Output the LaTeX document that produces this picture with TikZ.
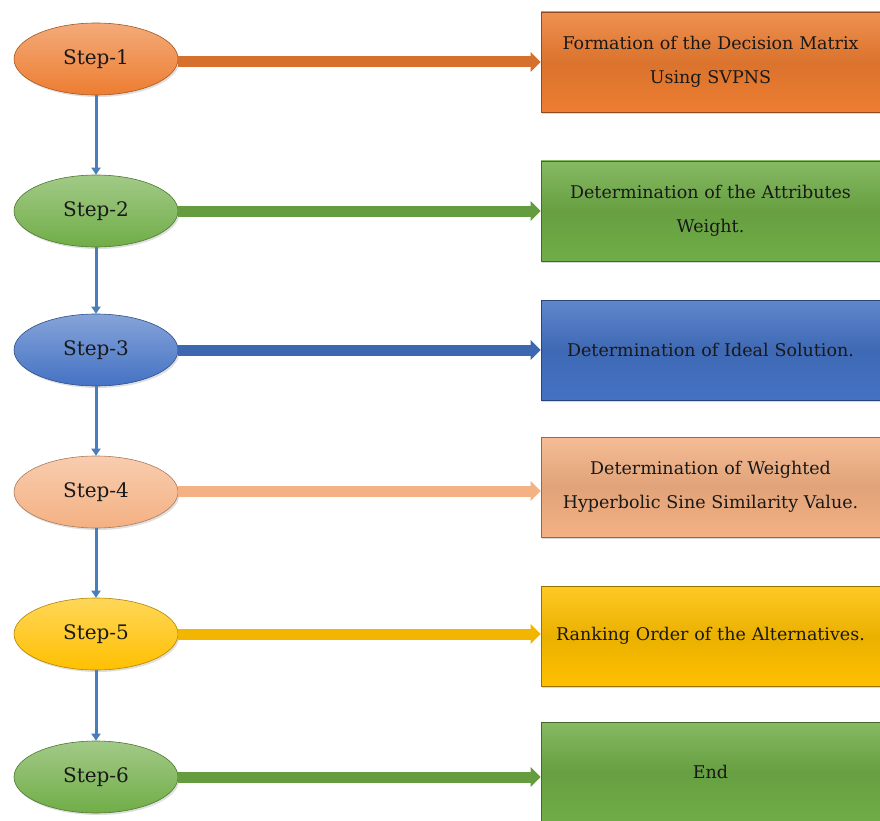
\documentclass[tikz,border=0pt]{standalone}
\usepackage{fontspec}
\setmainfont{DejaVu Serif}
\usetikzlibrary{shapes.geometric,arrows.meta,shadows}
\definecolor{corange}{HTML}{ED7D31}
\definecolor{cgreen}{HTML}{70AD47}
\definecolor{cblue}{HTML}{4472C4}
\definecolor{csalmon}{HTML}{F4B183}
\definecolor{cgold}{HTML}{FFC000}
\definecolor{cdown}{HTML}{4A7EBB}
\tikzset{
  stepnode/.style={ellipse, minimum width=164pt, minimum height=72pt, inner sep=0pt,
    draw=#1!70!black, line width=0.6pt, top color=#1!65!white, bottom color=#1,
    drop shadow={opacity=0.25, shadow xshift=1.5pt, shadow yshift=-2pt},
    font=\fontsize{20}{24}\selectfont, text=black!90},
  boxnode/.style={rectangle, minimum width=339pt, minimum height=100pt, inner sep=2pt,
    draw=#1!60!black, line width=0.6pt, top color=#1!85!white, bottom color=#1, middle color=#1!92!black,
    drop shadow={opacity=0.3, shadow xshift=1pt, shadow yshift=-2pt},
    align=center, text width=335pt, font=\fontsize{17.5}{34}\selectfont, text=black!90},
  sidearrow/.style={draw=#1, line width=11pt, -{Triangle[length=10pt,width=19pt]}},
  downarrow/.style={draw=cdown, line width=3pt, -{Triangle[length=7pt,width=9pt]}}
}
\begin{document}
\begin{tikzpicture}[x=1pt,y=-1pt]
\useasboundingbox (0,0) rectangle (880,821);
\fill[white] (0,0) rectangle (880,821);
% step ellipses
\node[stepnode=corange] (s1) at (96,59) {Step-1};
\node[stepnode=cgreen]  (s2) at (96,211) {Step-2};
\node[stepnode=cblue]   (s3) at (96,350) {Step-3};
\node[stepnode=csalmon] (s4) at (96,492) {Step-4};
\node[stepnode=cgold]   (s5) at (96,634) {Step-5};
\node[stepnode=cgreen]  (s6) at (96,777) {Step-6};
% boxes
\node[boxnode=corange] (b1) at (710.5,62) {Formation of the Decision Matrix\\Using SVPNS};
\node[boxnode=cgreen]  (b2) at (710.5,211) {Determination of the Attributes\\Weight.};
\node[boxnode=cblue]   (b3) at (710.5,350) {Determination of Ideal Solution.};
\node[boxnode=csalmon] (b4) at (710.5,487) {Determination of Weighted\\Hyperbolic Sine Similarity Value.};
\node[boxnode=cgold]   (b5) at (710.5,636) {Ranking Order of the Alternatives.};
\node[boxnode=cgreen]  (b6) at (710.5,772) {End};
% horizontal arrows
\draw[sidearrow=corange!90!black] (s1.east |- 0,62) -- (b1.west |- 0,62);
\draw[sidearrow=cgreen!90!black]  (s2.east) -- (b2.west);
\draw[sidearrow=cblue!90!black]   (s3.east) -- (b3.west);
\draw[sidearrow=csalmon]          (s4.east |- 0,491) -- (b4.west |- 0,491);
\draw[sidearrow=cgold!95!black]   (s5.east) -- (b5.west |- s5.east);
\draw[sidearrow=cgreen!90!black]  (s6.east) -- (b6.west |- s6.east);
% vertical arrows
\draw[downarrow] (s1.south) -- (s2.north);
\draw[downarrow] (s2.south) -- (s3.north);
\draw[downarrow] (s3.south) -- (s4.north);
\draw[downarrow] (s4.south) -- (s5.north);
\draw[downarrow] (s5.south) -- (s6.north);
\end{tikzpicture}
\end{document}
